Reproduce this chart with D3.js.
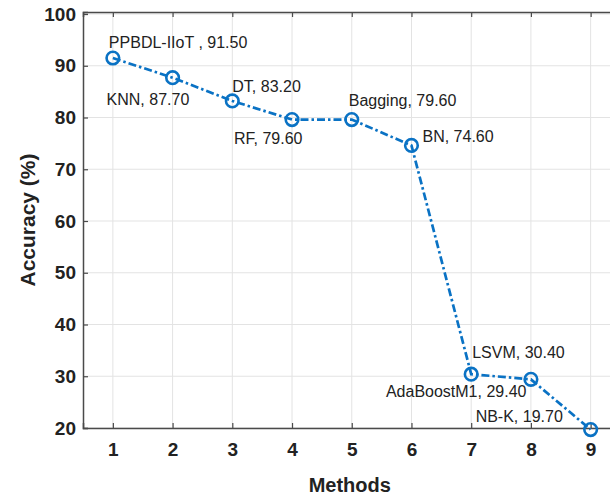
<!DOCTYPE html>
<html>
<head>
<meta charset="utf-8">
<script src="https://cdn.jsdelivr.net/npm/d3@7"></script>
<style>
  html, body { margin: 0; padding: 0; background: #fff; }
  svg { display: block; font-family: "Liberation Sans", Arial, Helvetica, sans-serif; }
</style>
</head>
<body>
<svg id="chart" width="610" height="496"></svg>
<script>
// ---- data ----
const methods = [1, 2, 3, 4, 5, 6, 7, 8, 9];
const accuracy = [91.5, 87.7, 83.2, 79.6, 79.6, 74.6, 30.4, 29.4, 19.7];
const methodNames = ["PPBDL-IIoT ", "KNN", "DT", "RF", "Bagging", "BN", "LSVM", "AdaBoostM1", "NB-K"];
const xTicks = [1, 2, 3, 4, 5, 6, 7, 8, 9];
const yTicks = [20, 30, 40, 50, 60, 70, 80, 90, 100];
const xTitle = "Methods";
const yTitle = "Accuracy (%)";

// ---- layout (label offsets in px, relative to each point) ----
const labelOffsets = [[-4, -10], [-66, 27], [0, -9], [-58, 24], [-3, -14], [11, -3], [1, -16], [-145, 18], [-115, -8]];

const svg = d3.select("#chart");
const pLeft = 83, pRight = 620.5, pTop = 12, pBottom = 428;

const x = d3.scaleLinear().domain([0.5, 9.5]).range([pLeft, pRight]);
const y = d3.scaleLinear().domain([20, 100.39]).range([pBottom, pTop]);

const axisColor = "#4a4a4a";
const textColor = "#222222";
const gridColor = "#e3e3e3";
const blue = "#0a72c4";

// grid
const g = svg.append("g");
g.selectAll("line.vg").data(xTicks).enter().append("line")
  .attr("x1", d => x(d)).attr("x2", d => x(d))
  .attr("y1", pTop).attr("y2", pBottom)
  .attr("stroke", gridColor).attr("stroke-width", 1);
g.selectAll("line.hg").data(yTicks).enter().append("line")
  .attr("x1", pLeft).attr("x2", pRight)
  .attr("y1", d => y(d)).attr("y2", d => y(d))
  .attr("stroke", gridColor).attr("stroke-width", 1);

// axes
const xAxis = d3.axisBottom(x).tickValues(xTicks).tickSize(-5).tickPadding(15).tickFormat(d3.format("d"));
const yAxis = d3.axisLeft(y).tickValues(yTicks).tickSize(-5).tickPadding(7).tickFormat(d3.format("d"));
const xTop = d3.axisTop(x).tickValues(xTicks).tickSize(-5).tickFormat("");

function styleAxis(sel) {
  sel.select(".domain").attr("stroke", axisColor).attr("stroke-width", 1.5);
  sel.selectAll(".tick line").attr("stroke", axisColor).attr("stroke-width", 1.2);
  sel.selectAll(".tick text").attr("fill", textColor).attr("font-size", 19).attr("font-weight", "bold")
    .attr("font-family", "Liberation Sans, Arial, sans-serif");
}

svg.append("g").attr("transform", `translate(0,${pBottom})`).call(xAxis).call(styleAxis);
svg.append("g").attr("transform", `translate(${pLeft},0)`).call(yAxis).call(styleAxis);
svg.append("g").attr("transform", `translate(0,${pTop})`).call(xTop).call(styleAxis);

// axis titles
svg.append("text")
  .attr("x", (pLeft + pRight) / 2 - 2).attr("y", 492)
  .attr("text-anchor", "middle")
  .attr("font-size", 20).attr("font-weight", "bold").attr("fill", textColor)
  .text(xTitle);
svg.append("text")
  .attr("transform", `translate(35,${(pTop + pBottom) / 2}) rotate(-90)`)
  .attr("text-anchor", "middle")
  .attr("font-size", 21).attr("font-weight", "bold").attr("fill", textColor)
  .text(yTitle);

// line
const pts = methods.map((m, i) => ({ m, v: accuracy[i], name: methodNames[i], off: labelOffsets[i] }));
const line = d3.line().x(d => x(d.m)).y(d => y(d.v));
svg.append("path").datum(pts)
  .attr("d", line)
  .attr("fill", "none")
  .attr("stroke", blue)
  .attr("stroke-width", 2.7)
  .attr("stroke-dasharray", "8,3,2.5,3");

// markers
svg.selectAll("circle.m").data(pts).enter().append("circle")
  .attr("cx", d => x(d.m)).attr("cy", d => y(d.v)).attr("r", 6.3)
  .attr("fill", "none").attr("stroke", blue).attr("stroke-width", 2.6);

// data labels
svg.selectAll("text.lbl").data(pts).enter().append("text")
  .attr("x", d => x(d.m) + d.off[0]).attr("y", d => y(d.v) + d.off[1])
  .attr("font-size", 16).attr("fill", textColor)
  .text(d => `${d.name}, ${d.v.toFixed(2)}`);
</script>
</body>
</html>
